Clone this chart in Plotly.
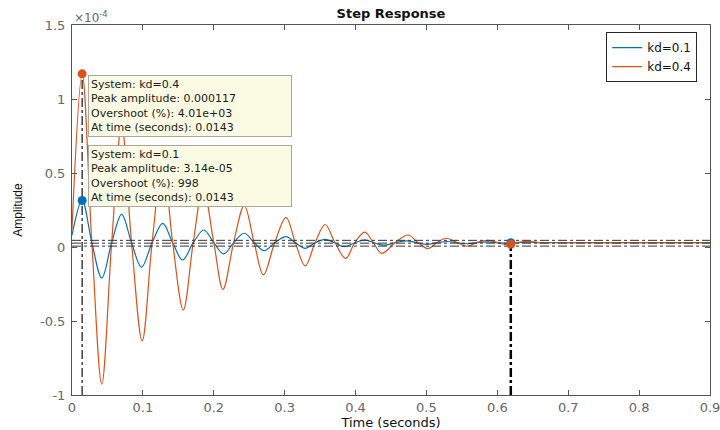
import plotly.graph_objects as go

# ---------------- data (amplitude in units of 1e-4) ----------------
t_kd01 = [0, 0.0143, 0.028, 0.042, 0.056, 0.070, 0.084, 0.098, 0.113, 0.128,
          0.142, 0.156, 0.171, 0.186, 0.200, 0.214, 0.228, 0.243, 0.257, 0.271,
          0.286, 0.302, 0.315, 0.329, 0.343, 0.357, 0.370, 0.384, 0.399, 0.413,
          0.426, 0.440, 0.456, 0.472, 0.486, 0.501, 0.515, 0.529, 0.543, 0.557,
          0.571, 0.586, 0.600, 0.614, 0.628, 0.643, 0.660, 0.700, 0.750, 0.800,
          0.850, 0.900]
amp_kd01 = [0.08, 0.314, 0.029, -0.21, 0.029, 0.22, 0.029, -0.137, 0.029, 0.16,
            0.029, -0.088, 0.029, 0.115, 0.029, -0.047, 0.029, 0.093, 0.029, -0.025,
            0.029, 0.070, 0.029, -0.009, 0.029, 0.052, 0.029, 0.002, 0.029, 0.048,
            0.029, 0.012, 0.029, 0.042, 0.029, 0.018, 0.029, 0.037, 0.029, 0.022,
            0.029, 0.034, 0.029, 0.025, 0.029, 0.032, 0.029, 0.029, 0.029, 0.029,
            0.029, 0.029]

t_kd04 = [0, 0.0143, 0.028, 0.042, 0.056, 0.070, 0.084, 0.099, 0.113, 0.128,
          0.142, 0.157, 0.171, 0.185, 0.200, 0.213, 0.228, 0.243, 0.257, 0.270,
          0.286, 0.302, 0.315, 0.329, 0.343, 0.357, 0.371, 0.386, 0.399, 0.413,
          0.425, 0.437, 0.456, 0.474, 0.488, 0.502, 0.515, 0.528, 0.543, 0.557,
          0.571, 0.586, 0.600, 0.614, 0.628, 0.643, 0.660, 0.700, 0.750, 0.800,
          0.850, 0.900]
amp_kd04 = [0.12, 1.17, 0.03, -0.926, 0.03, 0.82, 0.03, -0.635, 0.03, 0.58,
            0.03, -0.426, 0.03, 0.40, 0.03, -0.286, 0.03, 0.28, 0.03, -0.189,
            0.03, 0.20, 0.03, -0.128, 0.03, 0.152, 0.03, -0.077, 0.03, 0.10,
            0.03, -0.043, 0.03, 0.081, 0.03, -0.01, 0.03, 0.059, 0.03, 0.005,
            0.03, 0.045, 0.03, 0.014, 0.03, 0.038, 0.03, 0.029, 0.029, 0.029,
            0.029, 0.029]

series_names = ["kd=0.1", "kd=0.4"]
series_colors = ["#0072BD", "#D95319"]

peak_time = 0.0143
peak_kd01 = 0.314
peak_kd04 = 1.17
settle_time = 0.619
settle_kd01 = 0.029
settle_kd04 = 0.018
bound_levels = [0.045, 0.026, 0.006]

x_ticks = [0, 0.1, 0.2, 0.3, 0.4, 0.5, 0.6, 0.7, 0.8, 0.9]
x_tick_labels = ["0", "0.1", "0.2", "0.3", "0.4", "0.5", "0.6", "0.7", "0.8", "0.9"]
y_ticks = [-1, -0.5, 0, 0.5, 1, 1.5]
y_tick_labels = ["-1", "-0.5", "0", "0.5", "1", "1.5"]

tip_kd04 = ["System: kd=0.4", "Peak amplitude: 0.000117",
            "Overshoot (%): 4.01e+03", "At time (seconds): 0.0143"]
tip_kd01 = ["System: kd=0.1", "Peak amplitude: 3.14e-05",
            "Overshoot (%): 998", "At time (seconds): 0.0143"]

FONT = "DejaVu Sans"

fig = go.Figure()

# response curves
for t, a, name, col in [(t_kd01, amp_kd01, series_names[0], series_colors[0]),
                        (t_kd04, amp_kd04, series_names[1], series_colors[1])]:
    fig.add_trace(go.Scatter(x=t, y=a, mode="lines", name=name,
                             line=dict(color=col, width=1.2, shape="spline", smoothing=1.0)))

# characteristic lines
for lvl in bound_levels:
    fig.add_trace(go.Scatter(x=[x_ticks[0], x_ticks[-1]], y=[lvl, lvl], mode="lines",
                             showlegend=False, hoverinfo="skip",
                             line=dict(color="#333333", width=1, dash="dashdot")))
fig.add_trace(go.Scatter(x=[peak_time, peak_time], y=[y_ticks[0], peak_kd04], mode="lines",
                         showlegend=False, hoverinfo="skip",
                         line=dict(color="#111111", width=1.2, dash="dashdot")))
fig.add_trace(go.Scatter(x=[settle_time, settle_time], y=[y_ticks[0], settle_kd04], mode="lines",
                         showlegend=False, hoverinfo="skip",
                         line=dict(color="#000000", width=2.5, dash="dashdot")))

# markers
fig.add_trace(go.Scatter(x=[peak_time, settle_time], y=[peak_kd01, settle_kd01], mode="markers",
                         showlegend=False, marker=dict(color=series_colors[0], size=9)))
fig.add_trace(go.Scatter(x=[peak_time, settle_time], y=[peak_kd04, settle_kd04], mode="markers",
                         showlegend=False, marker=dict(color=series_colors[1], size=9)))

# data tips
for lines, ytop in [(tip_kd04, 0.865), (tip_kd01, 0.6757)]:
    fig.add_annotation(xref="paper", yref="paper", x=0.0251, y=ytop,
                       text="<br>".join(lines), showarrow=False,
                       xanchor="left", yanchor="top", align="left", width=198,
                       bgcolor="#fbfbe4", bordercolor="#a8a8a0", borderwidth=1, borderpad=2,
                       font=dict(family=FONT, size=11, color="#1a1a1a"))

# exponent label
fig.add_annotation(xref="paper", yref="paper", x=0.0, y=1.0, text="×10<sup>-4</sup>",
                   showarrow=False, xanchor="left", yanchor="bottom", yshift=-2,
                   font=dict(family=FONT, size=12, color="#666666"))

fig.update_layout(
    width=720, height=430,
    margin=dict(l=72, r=10, t=25, b=35, autoexpand=False),
    paper_bgcolor="white", plot_bgcolor="white",
    title=dict(text="<b>Step Response</b>", x=(72 + 710) / 2 / 720, xanchor="center",
               y=1 - 13 / 430, yanchor="middle", yref="container",
               font=dict(family=FONT, size=13, color="#111111")),
    legend=dict(x=0.98, xanchor="right", y=0.981, yanchor="top",
                bgcolor="white", bordercolor="#262626", borderwidth=1,
                font=dict(family=FONT, size=12, color="#111111"),
                tracegroupgap=0),
    showlegend=True,
)
fig.update_xaxes(range=[0, 0.9], tickvals=x_ticks, ticktext=x_tick_labels,
                 ticks="inside", ticklen=5, tickcolor="#555555",
                 showline=True, linecolor="#555555", linewidth=1, mirror="allticks",
                 showgrid=False, zeroline=False, automargin=False,
                 ticklabeloverflow="allow",
                 tickfont=dict(family=FONT, size=13, color="#666666"),
                 title=dict(text="Time (seconds)", standoff=2,
                            font=dict(family=FONT, size=13, color="#111111")))
fig.update_yaxes(range=[-1, 1.5], tickvals=y_ticks, ticktext=y_tick_labels,
                 ticks="inside", ticklen=5, tickcolor="#555555",
                 showline=True, linecolor="#555555", linewidth=1, mirror="allticks",
                 showgrid=False, zeroline=False, automargin=False, ticklabelstandoff=3,
                 tickfont=dict(family=FONT, size=13, color="#666666"),
                 title=dict(text="Amplitude", standoff=14,
                            font=dict(family="Liberation Sans", size=12, color="#111111")))

fig.write_html("out.html", config={"displayModeBar": False},
               post_script="document.body.style.margin='0';")
